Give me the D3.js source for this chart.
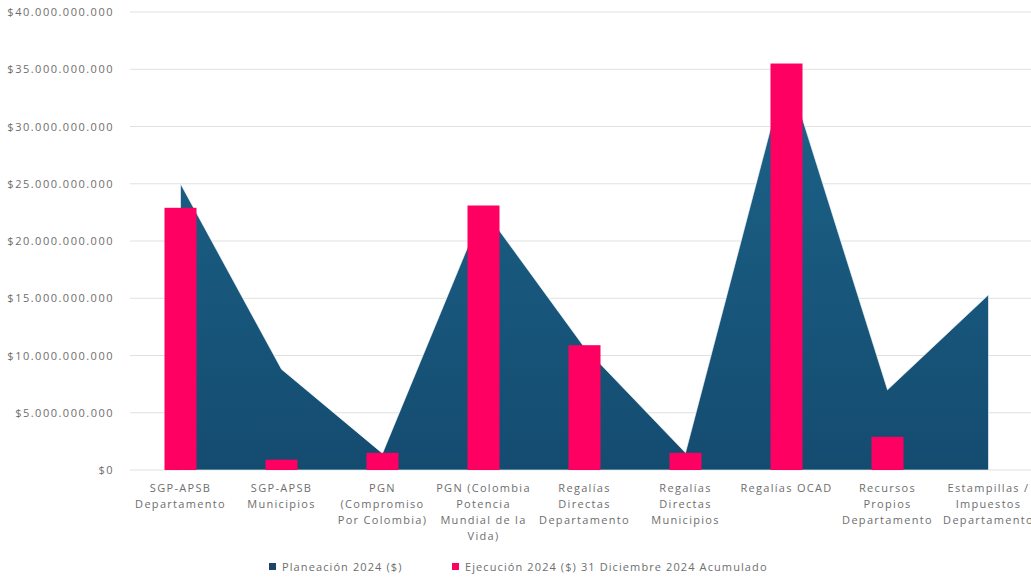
<!DOCTYPE html>
<html>
<head>
<meta charset="utf-8">
<script src="https://cdn.jsdelivr.net/npm/d3@7"></script>
<style>
  body { margin: 0; background: #fff; }
  text { font-family: "Open Sans", sans-serif; fill: #6e6e6e; }
</style>
</head>
<body>
<svg id="chart" width="1031" height="578"></svg>
<script>
// Data

var categorias = [
  ["SGP-APSB", "Departamento"],
  ["SGP-APSB", "Municipios"],
  ["PGN", "(Compromiso", "Por Colombia)"],
  ["PGN (Colombia", "Potencia", "Mundial de la", "Vida)"],
  ["Regalías", "Directas", "Departamento"],
  ["Regalías", "Directas", "Municipios"],
  ["Regalías OCAD"],
  ["Recursos", "Propios", "Departamento"],
  ["Estampillas /", "Impuestos", "Departamento"]
];
var planeacion = [25.0e9, 8.8e9, 1.45e9, 22.8e9, 10.7e9, 1.5e9, 35.1e9, 7.0e9, 15.3e9];
var ejecucion = [22.9e9, 0.9e9, 1.5e9, 23.1e9, 10.9e9, 1.5e9, 35.5e9, 2.9e9, 0];
var yTicks = [0, 5e9, 10e9, 15e9, 20e9, 25e9, 30e9, 35e9, 40e9];
var series = ["Planeación 2024 ($)", "Ejecución 2024 ($)  31 Diciembre 2024 Acumulado"];

// Chart

var svg = d3.select("#chart");
var idx = d3.range(categorias.length);

var x = d3.scaleBand().domain(idx).range([130, 1039]).padding(0);
var y = d3.scaleLinear().domain([0, 40e9]).range([470, 12]);

var locale = d3.formatLocale({decimal: ",", thousands: ".", grouping: [3], currency: ["$", ""]});
var fmt = locale.format("$,.0f");

var grad = svg.append("defs").append("linearGradient")
  .attr("id", "azul").attr("x1", 0).attr("y1", 0).attr("x2", 0).attr("y2", 1);
grad.append("stop").attr("offset", "0%").attr("stop-color", "#1d6389");
grad.append("stop").attr("offset", "100%").attr("stop-color", "#144c70");

// gridlines + y labels
var yAxis = d3.axisLeft(y).tickValues(yTicks).tickSize(0).tickPadding(0).tickFormat(fmt);
var gy = svg.append("g").attr("transform", "translate(114,0)").call(yAxis);
gy.select(".domain").remove();
gy.selectAll("text").style("font-size", "11px").style("letter-spacing", "1.5px").attr("fill", "#6e6e6e");

svg.append("g").selectAll("line")
  .data(yTicks)
  .join("line")
  .attr("x1", 130).attr("x2", 1031)
  .attr("y1", function(d) { return y(d); })
  .attr("y2", function(d) { return y(d); })
  .attr("stroke", "#e0e0e0").attr("stroke-width", 1);

// area
var area = d3.area()
  .x(function(d, i) { return x(i) + x.bandwidth() / 2; })
  .y0(y(0))
  .y1(function(d) { return y(d); });

svg.append("path")
  .datum(planeacion)
  .attr("d", area)
  .attr("fill", "url(#azul)")
  .attr("stroke", "#ffffff").attr("stroke-opacity", 0.6).attr("stroke-width", 1);

// bars
var bw = 32;
svg.append("g").selectAll("rect")
  .data(ejecucion)
  .join("rect")
  .attr("x", function(d, i) { return x(i) + x.bandwidth() / 2 - bw / 2; })
  .attr("width", bw)
  .attr("y", function(d) { return y(d); })
  .attr("height", function(d) { return y(0) - y(d); })
  .attr("fill", "#fd0062");

// x labels
var xAxis = d3.axisBottom(x).tickSize(0).tickFormat("");
var gx = svg.append("g").attr("transform", "translate(0,470)").call(xAxis);
gx.select(".domain").remove();
gx.selectAll(".tick").append("text")
  .attr("text-anchor", "middle")
  .style("font-size", "11px").style("letter-spacing", "1.3px")
  .attr("fill", "#6e6e6e")
  .selectAll("tspan")
  .data(function(d) { return categorias[d]; })
  .join("tspan")
  .attr("x", 0)
  .attr("y", function(d, i) { return 22 + i * 16; })
  .text(function(d) { return d; });

// legend
var legend = [
  {label: series[0], color: "#1e4466", x: 269},
  {label: series[1], color: "#fd0062", x: 452}
];
var lg = svg.append("g").selectAll("g").data(legend).join("g")
  .attr("transform", function(d) { return "translate(" + d.x + ",567)"; });
lg.append("rect").attr("x", 0).attr("y", -4).attr("width", 7).attr("height", 7)
  .attr("fill", function(d) { return d.color; });
lg.append("text").attr("x", 13).attr("y", 4)
  .style("font-size", "11px").style("letter-spacing", "1.1px")
  .attr("fill", "#6e6e6e")
  .text(function(d) { return d.label; });
</script>
</body>
</html>
